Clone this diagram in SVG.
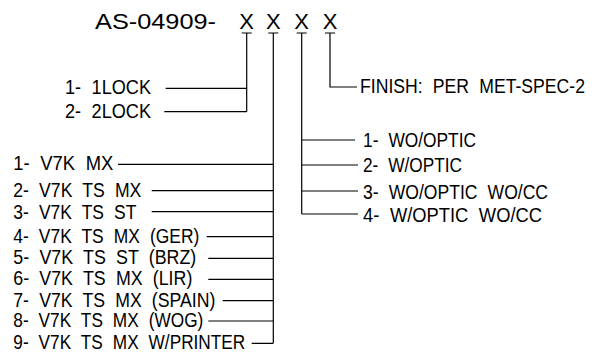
<svg xmlns="http://www.w3.org/2000/svg" width="598" height="354" viewBox="0 0 598 354">
<style>
text{font-family:"Liberation Sans",Arial,sans-serif;fill:#000;}
.t{font-size:20px;word-spacing:6px;}
.h{font-size:22px;}
.c{fill:none;stroke:#000;stroke-width:1.2;}
</style>
<rect width="598" height="354" fill="#fff"/>
<g id="title">
<text class="h" x="95" y="28.5" textLength="121" lengthAdjust="spacingAndGlyphs">AS-04909-</text>
<text class="h" x="246.7" y="28.5" text-anchor="middle">X</text>
<text class="h" x="273.3" y="28.5" text-anchor="middle">X</text>
<text class="h" x="301.7" y="28.5" text-anchor="middle">X</text>
<text class="h" x="330" y="28.5" text-anchor="middle">X</text>
</g>
<g id="lock1"><text class="t" x="65" y="94" textLength="86" lengthAdjust="spacingAndGlyphs">1- 1LOCK</text></g>
<g id="lock2"><text class="t" x="65" y="118" textLength="86" lengthAdjust="spacingAndGlyphs">2- 2LOCK</text></g>
<g id="finish"><text class="t" x="360" y="93" textLength="225" lengthAdjust="spacingAndGlyphs">FINISH: PER MET-SPEC-2</text></g>
<g id="opt1"><text class="t" x="363" y="146.5" textLength="113" lengthAdjust="spacingAndGlyphs">1- WO/OPTIC</text></g>
<g id="opt2"><text class="t" x="363" y="171.5" textLength="99" lengthAdjust="spacingAndGlyphs">2- W/OPTIC</text></g>
<g id="opt3"><text class="t" x="363" y="198.5" textLength="185" lengthAdjust="spacingAndGlyphs">3- WO/OPTIC WO/CC</text></g>
<g id="opt4"><text class="t" x="363" y="221.5" textLength="179" lengthAdjust="spacingAndGlyphs">4- W/OPTIC WO/CC</text></g>
<g id="m1"><text class="t" x="13.3" y="170.3" textLength="100" lengthAdjust="spacingAndGlyphs">1- V7K MX</text></g>
<g id="m2"><text class="t" x="13.3" y="196.7" textLength="128" lengthAdjust="spacingAndGlyphs">2- V7K TS MX</text></g>
<g id="m3"><text class="t" x="13.3" y="218.5" textLength="123" lengthAdjust="spacingAndGlyphs">3- V7K TS ST</text></g>
<g id="m4"><text class="t" x="13.3" y="242.7" textLength="186" lengthAdjust="spacingAndGlyphs">4- V7K TS MX (GER)</text></g>
<g id="m5"><text class="t" x="13.3" y="264.3" textLength="183" lengthAdjust="spacingAndGlyphs">5- V7K TS ST (BRZ)</text></g>
<g id="m6"><text class="t" x="13.3" y="285.3" textLength="179" lengthAdjust="spacingAndGlyphs">6- V7K TS MX (LIR)</text></g>
<g id="m7"><text class="t" x="13.3" y="306.7" textLength="202" lengthAdjust="spacingAndGlyphs">7- V7K TS MX (SPAIN)</text></g>
<g id="m8"><text class="t" x="13.3" y="327" textLength="190" lengthAdjust="spacingAndGlyphs">8- V7K TS MX (WOG)</text></g>
<g id="m9"><text class="t" x="13.3" y="349.3" textLength="232" lengthAdjust="spacingAndGlyphs">9- V7K TS MX W/PRINTER</text></g>
<g id="connectors" class="c">
<path d="M241.7 33H251.7M268.3 33H278.3M296.7 33H306.7M325 33H335"/>
<path d="M246.7 33V111.7M165.7 88.3H246.7M164.3 111.7H246.7"/>
<path d="M273.3 33V343.3M118 164.3H273.3M151.7 190.7H273.3M151.7 211.7H273.3M206.7 236.7H273.3M208.3 258.3H273.3M208.3 279.3H273.3M222.7 300.7H273.3M208.3 321H273.3M251.7 343.3H273.3"/>
<path d="M301.7 33V214M301.7 140H355M301.7 165H358M301.7 191H358M301.7 214H358"/>
<path d="M330 33V87H357"/>
</g>
</svg>
